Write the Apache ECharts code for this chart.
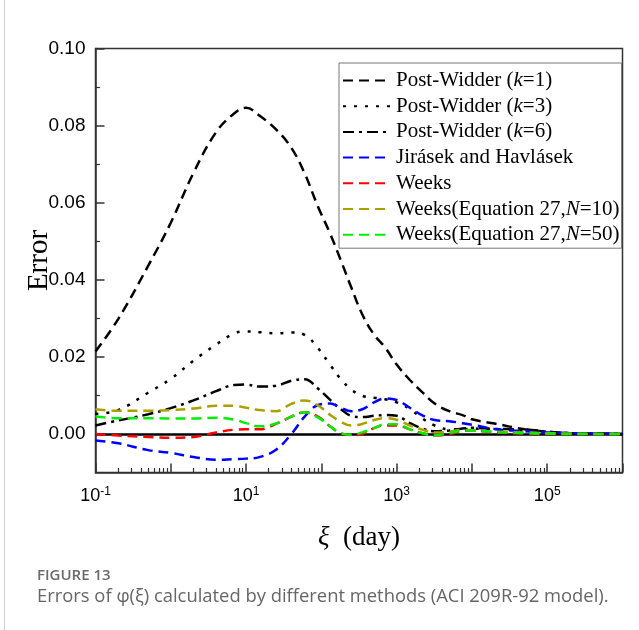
<!DOCTYPE html>
<html>
<head>
<meta charset="utf-8">
<script src="https://cdn.jsdelivr.net/npm/echarts@6/dist/echarts.min.js"></script>
<style>
  html, body { margin: 0; padding: 0; background: #fff; }
  #chart { width: 639px; height: 630px; }
</style>
</head>
<body>
<div id="chart"></div>
<script>
// xi (day), shared by all curves
const days = [0.1, 0.2, 0.5, 1, 2, 4, 7, 10, 15, 25, 40, 60, 90, 130, 180, 250, 350, 500, 700,
  1000, 1500, 2200, 3200, 5000, 7500, 1e4, 2e4, 5e4, 1e5, 2e5, 5e5, 1e6]

const postWidderK1 = [0.0214, 0.0298, 0.0436, 0.0548, 0.0677, 0.0783, 0.0832, 0.0846, 0.0826, 0.079,
  0.0742, 0.0676, 0.059, 0.0521, 0.0452, 0.038, 0.031, 0.0258, 0.0225, 0.018, 0.014, 0.0108, 0.0079,
  0.0059, 0.0049, 0.0038, 0.0027, 0.0012, 0.0006, 0.0002, 0.0001, 0]
const postWidderK3 = [0.0052, 0.0062, 0.0107, 0.0143, 0.019, 0.0232, 0.0261, 0.0266, 0.0264, 0.0261,
  0.0263, 0.0257, 0.0223, 0.018, 0.0143, 0.0115, 0.0099, 0.0094, 0.009, 0.0082, 0.0065, 0.004, 0.0022,
  0.0012, 0.0012, 0.0014, 0.0012, 0.0008, 0.0004, 0.0002, 0.0001, 0]
const postWidderK6 = [0.0022, 0.0035, 0.0051, 0.0067, 0.0087, 0.0111, 0.0127, 0.0128, 0.0123, 0.0125,
  0.0138, 0.0142, 0.0118, 0.0089, 0.0065, 0.0047, 0.0044, 0.0047, 0.0049, 0.0047, 0.0028, 0.0014, 0.0007,
  0.0009, 0.0014, 0.0016, 0.0013, 0.0012, 0.0006, 0.0002, 0.0001, 0]
const jirasek = [-0.0017, -0.0024, -0.0042, -0.0049, -0.006, -0.0067, -0.0065, -0.0064, -0.006, -0.0041,
  0.0, 0.0045, 0.0075, 0.0079, 0.0068, 0.0059, 0.0064, 0.0082, 0.0092, 0.0088, 0.0068, 0.0048, 0.0036,
  0.0033, 0.0028, 0.0024, 0.0013, 0.0007, 0.0004, 0.0002, 0.0001, 0]
const weeks = [0, -0.0004, -0.0008, -0.001, -0.0008, 0.0004, 0.0011, 0.0012, 0.0012, 0.0026,
  0.0045, 0.0056, 0.0045, 0.002, 0.0002, -0.0003, 0.0, 0.0015, 0.0022, 0.0022, 0.0012, 0.0002, -0.0004,
  0.0, 0.0008, 0.0009, 0.0004, 0.0001, 0, 0, 0, 0]
const weeksN10 = [0.0064, 0.006, 0.006, 0.0062, 0.0066, 0.0073, 0.0073, 0.0068, 0.0062, 0.0059,
  0.0078, 0.0087, 0.0074, 0.005, 0.0032, 0.0022, 0.0026, 0.0036, 0.0041, 0.0037, 0.0022, 0.0011, 0.0004,
  0.0006, 0.0011, 0.0009, 0.0006, 0.0004, 0.0002, 0.0001, 0, 0]
const weeksN50 = [0.0045, 0.0041, 0.0041, 0.004, 0.004, 0.0042, 0.0037, 0.0028, 0.002, 0.0027,
  0.0045, 0.0056, 0.0043, 0.002, 0.0002, -0.0002, 0.0004, 0.0015, 0.0025, 0.0025, 0.0012, 0.0002, -0.0004,
  0.0003, 0.0008, 0.0009, 0.0005, 0.0002, 0.0001, 0, 0, 0]

const zeroLevel = 0
const yMajorTicks = [0, 0.02, 0.04, 0.06, 0.08, 0.10]
const yMinorTicks = [0.01, 0.03, 0.05, 0.07, 0.09]
const xLabelExps = [-1, 1, 3, 5]

const legendRich = {
    'Post-Widder (k=1)': 'Post-Widder ({i|k}=1)',
    'Post-Widder (k=3)': 'Post-Widder ({i|k}=3)',
    'Post-Widder (k=6)': 'Post-Widder ({i|k}=6)',
    'Jirásek and Havlásek': 'Jirásek and Havlásek',
    'Weeks': 'Weeks',
    'Weeks(Equation 27,N=10)': 'Weeks(Equation 27,{i|N}=10)',
    'Weeks(Equation 27,N=50)': 'Weeks(Equation 27,{i|N}=50)'
}

const serif = "'Liberation Serif', 'Times New Roman', serif"
const sans = "'Liberation Sans', Arial, sans-serif"

function pairs(ys) {
    return ys.map((y, i) => [days[i], y])
}

function makeSeries(name, ys, color, dash) {
    return {
        name: name,
        type: 'line',
        data: pairs(ys),
        smooth: 0.4,
        symbol: 'none',
        lineStyle: { color: color, width: 2.5, type: dash },
        itemStyle: { color: color },
        z: 3
    }
}

const series = [
    makeSeries('Post-Widder (k=1)', postWidderK1, '#000', [10, 6]),
    makeSeries('Post-Widder (k=3)', postWidderK3, '#000', [3, 8]),
    makeSeries('Post-Widder (k=6)', postWidderK6, '#000', [11, 5, 3, 5]),
    makeSeries('Jirásek and Havlásek', jirasek, '#0000ff', [10, 6]),
    makeSeries('Weeks', weeks, '#ff0000', [10, 6]),
    makeSeries('Weeks(Equation 27,N=10)', weeksN10, '#aaa000', [10, 6]),
    makeSeries('Weeks(Equation 27,N=50)', weeksN50, '#00ee00', [10, 6])
]
series[0].markLine = {
    silent: true,
    symbol: ['none', 'none'],
    label: { show: false },
    lineStyle: { type: 'solid', color: '#000', width: 2.5 },
    data: [{ yAxis: zeroLevel }],
    z: 2
}

const chart = echarts.init(document.getElementById('chart'), null, { renderer: 'canvas' })

chart.setOption({
    animation: false,
    backgroundColor: '#fff',
    grid: {
        left: 95.5, right: 16.5, top: 48.5, bottom: 157.5,
        show: true, borderColor: '#333', borderWidth: 1.5, backgroundColor: 'transparent'
    },
    legend: {
        orient: 'vertical',
        left: 339, top: 63,
        padding: [7, 2, 3, 3],
        itemWidth: 48, itemHeight: 14, itemGap: 4.7,
        borderColor: '#777', borderWidth: 1,
        itemStyle: { opacity: 0 },
        formatter: name => legendRich[name] || name,
        textStyle: {
            fontFamily: serif, fontSize: 21, color: '#000', lineHeight: 21,
            rich: { i: { fontFamily: serif, fontSize: 21, fontStyle: 'italic', color: '#000' } }
        },
        data: series.map(s => s.name)
    },
    xAxis: [{
        type: 'log', logBase: 10, min: 0.1, max: 1e6, splitNumber: 7,
        name: '{i|ξ}  (day)', nameLocation: 'middle', nameGap: 52,
        nameTextStyle: {
            fontFamily: serif, fontSize: 27, color: '#000',
            rich: { i: { fontFamily: serif, fontSize: 27, fontStyle: 'italic', color: '#000' } }
        },
        axisLine: { onZero: false, lineStyle: { color: '#333', width: 1.5 } },
        axisTick: { inside: true, length: 9, lineStyle: { color: '#333', width: 1.5 } },
        minorTick: { show: true, splitNumber: 9, length: 4.5, lineStyle: { color: '#333', width: 1.2 } },
        splitLine: { show: false },
        axisLabel: {
            margin: 13, color: '#000', fontFamily: sans, fontSize: 18,
            formatter: v => {
                const e = Math.round(Math.log10(v))
                return xLabelExps.indexOf(e) >= 0 ? '10{s|' + e + '}' : ''
            },
            rich: { s: { fontFamily: sans, fontSize: 12, color: '#000', verticalAlign: 'top', padding: [0, 0, 10, 0] } }
        }
    }],
    yAxis: [{
        type: 'value', min: -0.01, max: 0.10,
        name: 'Error', nameLocation: 'middle', nameGap: 42, nameMoveOverlap: false,
        nameTextStyle: { fontFamily: serif, fontSize: 29, color: '#000' },
        axisLine: { show: true, lineStyle: { color: '#333', width: 1.5 } },
        axisTick: { inside: true, length: 9, customValues: yMajorTicks, lineStyle: { color: '#333', width: 1.5 } },
        splitLine: { show: false },
        axisLabel: {
            customValues: yMajorTicks, margin: 10, color: '#000', fontFamily: sans, fontSize: 19,
            formatter: v => v.toFixed(2)
        }
    }, {
        type: 'value', min: -0.01, max: 0.10, position: 'left', offset: 0,
        axisLine: { show: false },
        axisTick: { inside: true, length: 4.5, customValues: yMinorTicks, lineStyle: { color: '#333', width: 1.2 } },
        axisLabel: { show: false },
        splitLine: { show: false }
    }],
    graphic: [
        { type: 'line', shape: { x1: 4.5, y1: 0, x2: 4.5, y2: 630 }, style: { stroke: '#cfcfcf', lineWidth: 1 } },
        { type: 'text', left: 37, top: 568, style: { text: 'FIGURE 13', fill: '#6b6b6b', font: "600 15px 'Open Sans', sans-serif" } },
        { type: 'text', left: 37, top: 588, style: { text: 'Errors of φ(ξ) calculated by different methods (ACI 209R-92 model).', fill: '#666', font: "18.4px 'Open Sans', sans-serif" } }
    ],
    series: series
})
</script>
</body>
</html>
